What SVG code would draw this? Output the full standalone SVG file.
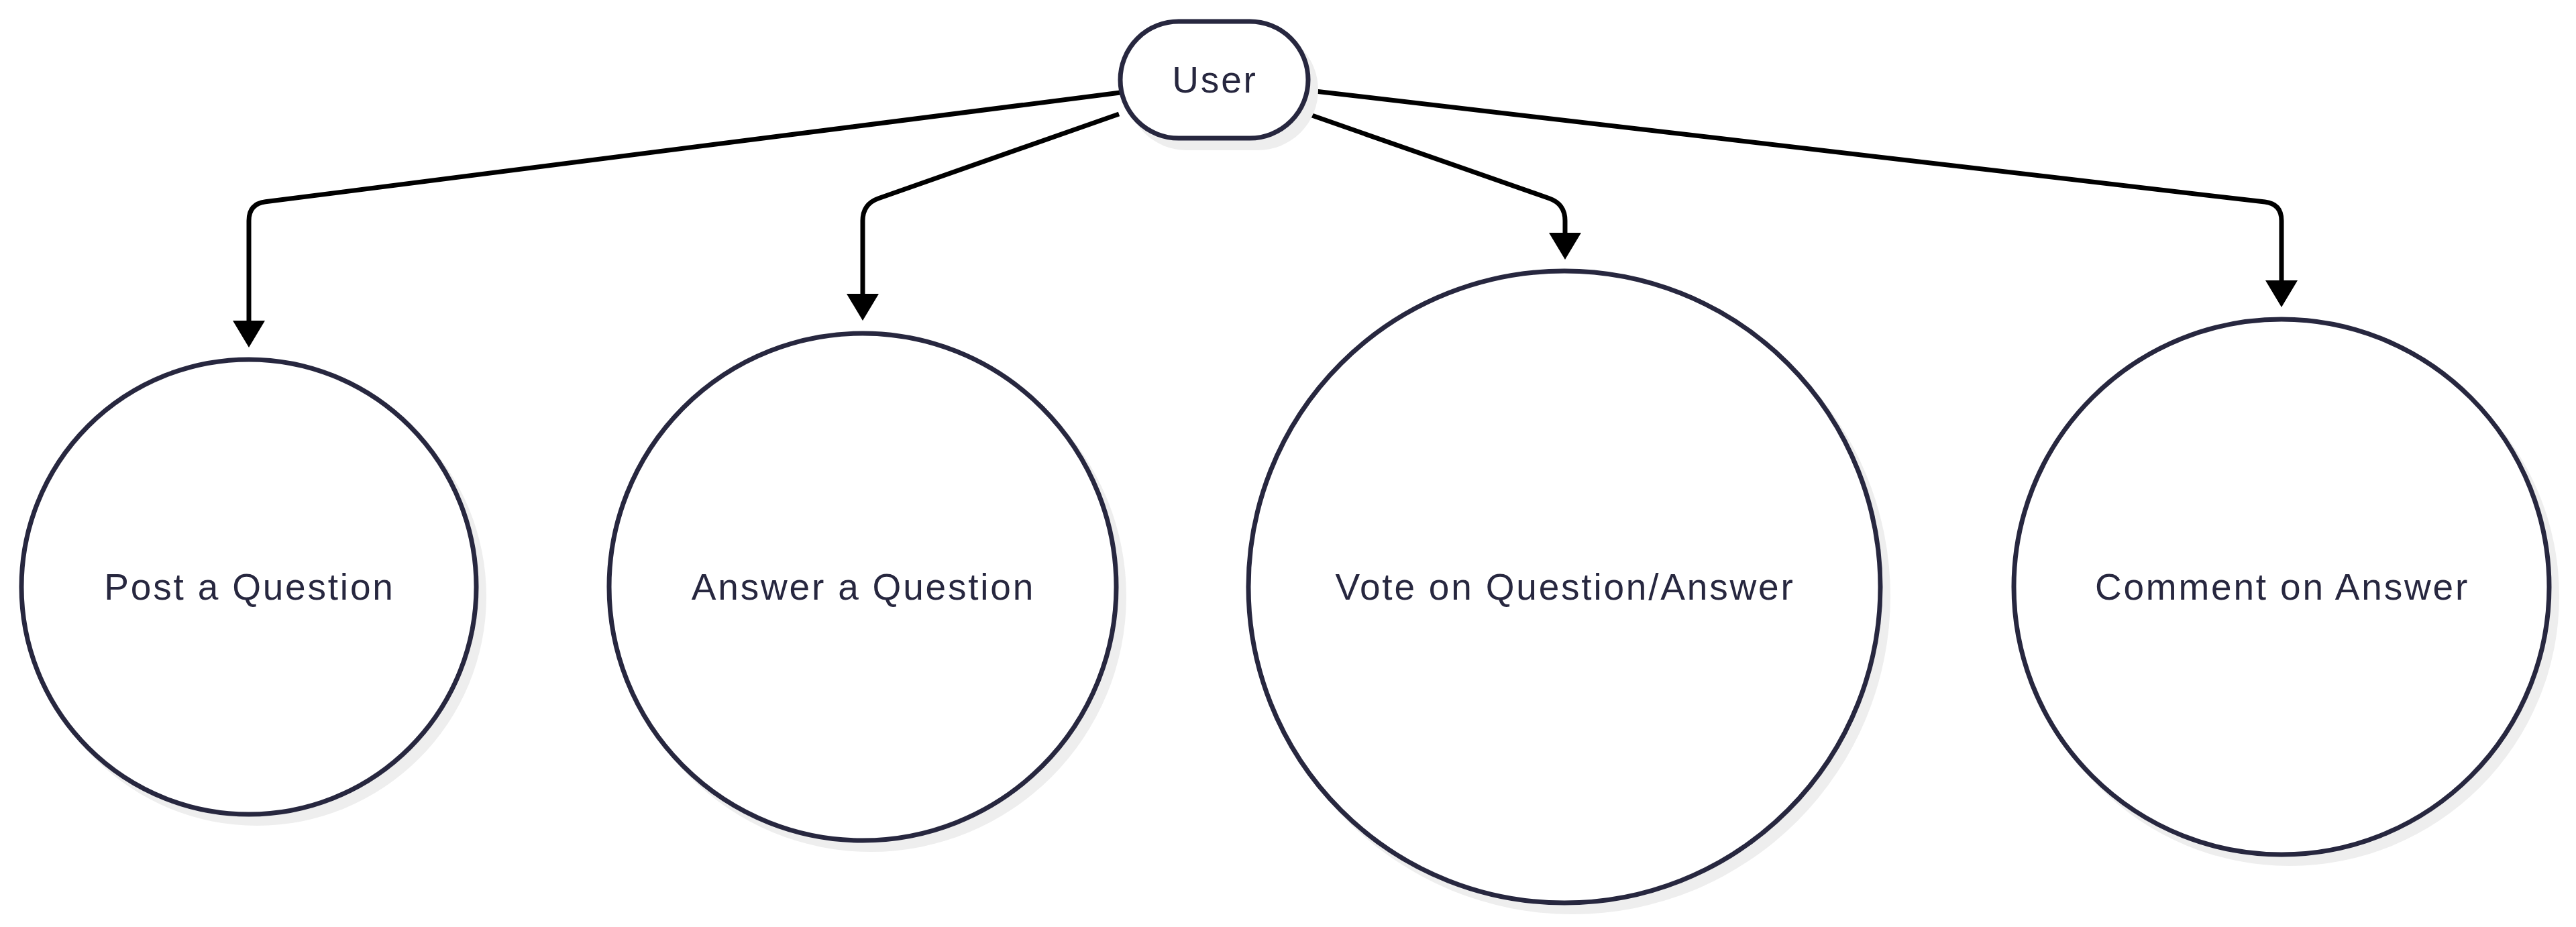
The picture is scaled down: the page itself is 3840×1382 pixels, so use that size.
<svg xmlns="http://www.w3.org/2000/svg" width="3840" height="1382" viewBox="0 0 3840 1382">
<style>
.shadow{fill:#eeeeee;stroke:none}
.node{fill:#ffffff;stroke:#27273f;stroke-width:7}
.label{font-family:"Liberation Sans",Arial,sans-serif;font-size:55px;fill:#27273f;text-anchor:middle;letter-spacing:2.8px}
.edge{fill:none;stroke:#000000;stroke-width:7}
</style>
<defs>
<marker id="arrow" markerUnits="userSpaceOnUse" markerWidth="42" markerHeight="50" viewBox="0 0 42 50" refX="2" refY="25" orient="auto">
<path d="M0,1 L40,25 L0,49 Z" fill="#000000"/>
</marker>
</defs>
<rect width="3840" height="1382" fill="#ffffff"/>
<g id="edges">
<path class="edge" d="M1670,138 L395.8,300.8 Q371,304 371,329 L371,480" marker-end="url(#arrow)"/>
<path class="edge" d="M1668,170 L1309.6,295.7 Q1286,304 1286,329 L1286,440" marker-end="url(#arrow)"/>
<path class="edge" d="M1950,170 L2309.4,295.7 Q2333,304 2333,329 L2333,349" marker-end="url(#arrow)"/>
<path class="edge" d="M1952,135 L3376.2,301.1 Q3401,304 3401,329 L3401,420" marker-end="url(#arrow)"/>
</g>
<g id="user">
<rect class="shadow" x="1679" y="44" width="286" height="180" rx="90"/>
<rect class="node" x="1670" y="32" width="280" height="174" rx="87"/>
<text class="label" x="1811" y="138">User</text>
</g>
<g id="post">
<circle class="shadow" cx="383" cy="889" r="342"/>
<circle class="node" cx="371" cy="875" r="339"/>
<text class="label" x="372" y="894">Post a Question</text>
</g>
<g id="answer">
<circle class="shadow" cx="1298" cy="889" r="381"/>
<circle class="node" cx="1286" cy="875" r="378"/>
<text class="label" x="1287" y="894">Answer a Question</text>
</g>
<g id="vote">
<circle class="shadow" cx="2344" cy="889" r="474"/>
<circle class="node" cx="2332" cy="875" r="471"/>
<text class="label" x="2333" y="894">Vote on Question/Answer</text>
</g>
<g id="comment">
<circle class="shadow" cx="3413" cy="889" r="402"/>
<circle class="node" cx="3401" cy="875" r="399"/>
<text class="label" x="3402" y="894">Comment on Answer</text>
</g>
</svg>
